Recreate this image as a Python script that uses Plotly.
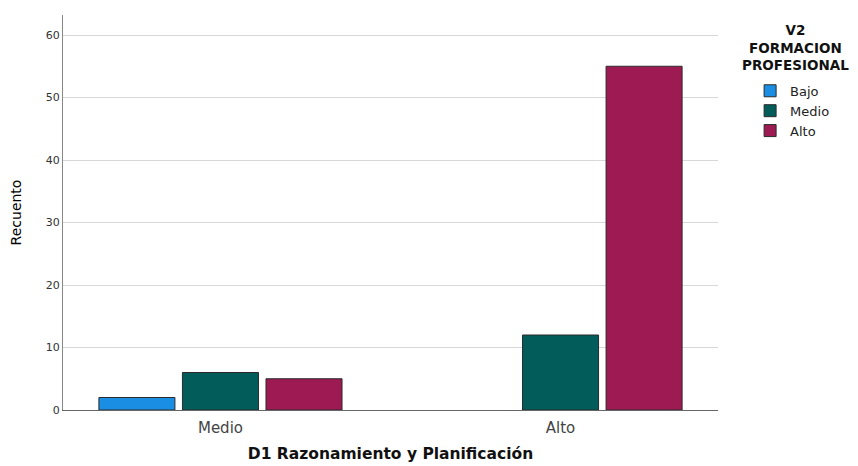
import plotly.graph_objects as go

categories = ["Medio", "Alto"]
series_names = ["Bajo", "Medio", "Alto"]
bajo = [2, 0]
medio = [6, 12]
alto = [5, 55]
colors = ["#1a8ee3", "#015c5a", "#9e1a52"]
legend_title = "V2<br>FORMACION<br>PROFESIONAL"

FONT = "DejaVu Sans, Liberation Sans, Arial, sans-serif"

fig = go.Figure()
for name, vals, col in zip(series_names, [bajo, medio, alto], colors):
    fig.add_trace(go.Bar(
        x=categories,
        y=[v if v > 0 else None for v in vals],
        name=name,
        marker=dict(color=col, line=dict(color="#2b2b2b", width=1)),
    ))

# centred legend title
fig.add_annotation(
    text=f"<b>{legend_title}</b>", xref="paper", yref="paper",
    x=1.1176, y=0.988, xanchor="center", yanchor="top", align="center",
    showarrow=False, font=dict(family=FONT, size=13.5, color="#111"),
)

fig.update_layout(
    width=850, height=458,
    margin=dict(l=55, r=140, t=7, b=56),
    paper_bgcolor="white", plot_bgcolor="white",
    barmode="group", bargap=0.263, bargroupgap=0.09,
    font=dict(family=FONT, color="#222"),
    legend=dict(
        x=1.049, xanchor="left", y=0.846, yanchor="top",
        font=dict(family=FONT, size=13, color="#222"),
        itemwidth=30, tracegroupgap=0,
    ),
    xaxis=dict(
        range=[-0.463, 1.463],
        showline=True, linecolor="#666", linewidth=1,
        ticks="", ticklabelstandoff=4, tickfont=dict(size=15, color="#444"),
        title=dict(text="<b>D1 Razonamiento y Planificación</b>",
                   font=dict(size=15.5, color="#111"), standoff=12),
    ),
    yaxis=dict(
        range=[0, 63.2], dtick=10,
        showline=True, linecolor="#888", linewidth=1,
        showgrid=True, gridcolor="#d8d8d8", gridwidth=1,
        zeroline=False,
        tickfont=dict(size=11, color="#333"),
        title=dict(text="Recuento", font=dict(size=14, color="#000"), standoff=21),
    ),
)

fig.write_html("out.html")
